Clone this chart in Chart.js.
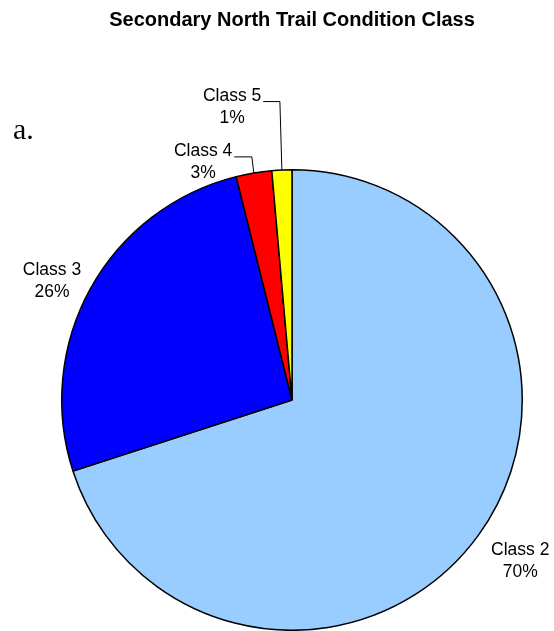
<!DOCTYPE html>
<html>
<head>
<meta charset="utf-8">
<script src="https://cdn.jsdelivr.net/npm/chart.js@4"></script>
<style>
  body { margin: 0; background: #fff; }
  #wrap { position: relative; width: 554px; height: 631px; }
</style>
</head>
<body>
<div id="wrap"><canvas id="pieChart" width="554" height="631"></canvas></div>
<script>
// data
var categories = ["Class 2", "Class 3", "Class 4", "Class 5"];
var shares = [70.0, 26.1, 2.5, 1.4];
var pctLabels = ["70%", "26%", "3%", "1%"];
var sliceColors = ['#99CCFF', '#0000FF', '#FF0000', '#FFFF00'];

// label placement: angle (deg clockwise from top) and distance from centre in radii
var labelPolar = [[125, 1.21], [296.5, 1.165], [339.6, 1.108], [348.5, 1.305]];
var leaderLines = [false, false, true, true];

var labelFont = '17.5px "Liberation Sans", Arial, sans-serif';

var pieLabels = {
  id: 'pieLabels',
  afterDraw: function (chart) {
    var ctx = chart.ctx;
    var arcs = chart.getDatasetMeta(0).data;
    ctx.save();
    // title
    ctx.fillStyle = '#000';
    ctx.font = 'bold 20px "Liberation Sans", Arial, sans-serif';
    ctx.textAlign = 'center';
    ctx.textBaseline = 'alphabetic';
    ctx.fillText('Secondary North Trail Condition Class', 292, 26);
    // panel letter
    ctx.font = '30px "Liberation Serif", "Times New Roman", serif';
    ctx.textAlign = 'left';
    ctx.fillText('a.', 13, 139);

    ctx.font = labelFont;
    arcs.forEach(function (arc, i) {
      var cx = arc.x, cy = arc.y, r = arc.outerRadius;
      var a = labelPolar[i][0] * Math.PI / 180;
      var lx = cx + Math.sin(a) * r * labelPolar[i][1];
      var ly = cy - Math.cos(a) * r * labelPolar[i][1];
      ctx.fillStyle = '#000';
      ctx.textAlign = 'center';
      ctx.fillText(categories[i], lx, ly - 5);
      ctx.fillText(pctLabels[i], lx, ly + 17);
      if (leaderLines[i]) {
        var mid = (arc.startAngle + arc.endAngle) / 2;
        var ex = cx + Math.cos(mid) * r;
        var ey = cy + Math.sin(mid) * r;
        var w = ctx.measureText(categories[i]).width;
        var sx = lx + w / 2 + 2;
        var sy = ly - 4;
        ctx.strokeStyle = '#000';
        ctx.lineWidth = 1;
        ctx.beginPath();
        ctx.moveTo(sx, sy);
        ctx.lineTo(ex - 2, sy);
        ctx.lineTo(ex, ey);
        ctx.stroke();
      }
    });
    ctx.restore();
  }
};

var ctxP = document.getElementById("pieChart").getContext('2d');
var myPieChart = new Chart(ctxP, {
  type: 'pie',
  data: {
    labels: categories,
    datasets: [{
      data: shares,
      backgroundColor: sliceColors,
      borderColor: '#000000',
      borderWidth: 1.5
    }]
  },
  options: {
    responsive: false,
    animation: false,
    layout: {
      padding: { left: 61, right: 31, top: 169, bottom: 0 }
    },
    plugins: {
      legend: { display: false },
      tooltip: { enabled: false }
    }
  },
  plugins: [pieLabels]
});
</script>
</body>
</html>
